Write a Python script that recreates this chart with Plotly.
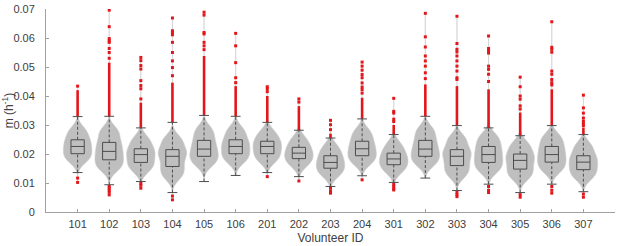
import plotly.graph_objects as go

volunteers = ["101", "102", "103", "104", "105", "106", "201", "202", "203",
              "204", "301", "302", "303", "304", "305", "306", "307"]

q1 = [0.0201, 0.0180, 0.0171, 0.0157, 0.0192, 0.0201, 0.0201, 0.0184, 0.0151,
      0.0194, 0.0163, 0.0192, 0.0160, 0.0171, 0.0148, 0.0172, 0.0146]
median = [0.0226, 0.0209, 0.0198, 0.0192, 0.0217, 0.0226, 0.0226, 0.0203, 0.0171,
          0.0218, 0.0183, 0.0217, 0.0192, 0.0198, 0.0178, 0.0198, 0.0172]
q3 = [0.0249, 0.0240, 0.0218, 0.0215, 0.0247, 0.0249, 0.0244, 0.0223, 0.0194,
      0.0244, 0.0203, 0.0247, 0.0215, 0.0226, 0.0200, 0.0226, 0.0194]
# estimated 10th / 90th percentiles (shape of the violins)
p10 = [0.0180, 0.0152, 0.0148, 0.0125, 0.0168, 0.0178, 0.0180, 0.0165, 0.0130,
       0.0172, 0.0143, 0.0168, 0.0130, 0.0145, 0.0122, 0.0146, 0.0122]
p90 = [0.0280, 0.0278, 0.0250, 0.0250, 0.0282, 0.0282, 0.0272, 0.0250, 0.0222,
       0.0276, 0.0232, 0.0282, 0.0252, 0.0258, 0.0232, 0.0258, 0.0228]
whisker_lo = [0.0136, 0.0094, 0.0105, 0.0067, 0.0105, 0.0126, 0.0136, 0.0122, 0.0088,
              0.0125, 0.0102, 0.0117, 0.0074, 0.0096, 0.0067, 0.0096, 0.0070]
whisker_hi = [0.0329, 0.0330, 0.0290, 0.0309, 0.0333, 0.0330, 0.0309, 0.0282, 0.0255,
              0.0321, 0.0267, 0.0330, 0.0298, 0.0290, 0.0263, 0.0298, 0.0267]

# top of the continuous run of red outliers above the upper whisker
dense_top = [0.0420, 0.0515, 0.0377, 0.0446, 0.0538, 0.0434, 0.0400, 0.0365, 0.0270,
             0.0394, 0.0300, 0.0440, 0.0434, 0.0423, 0.0343, 0.0423, 0.0290]

# isolated outliers above the dense run
sparse_hi = [
    [0.0434],
    [0.0696, 0.0639, 0.0598, 0.0590, 0.0585, 0.0564, 0.0550, 0.0530],
    [0.0533, 0.0522, 0.0505, 0.0493, 0.0453, 0.0436, 0.0425, 0.0390],
    [0.0669, 0.0625, 0.0619, 0.0611, 0.0585, 0.0550, 0.0521, 0.0498, 0.0470],
    [0.0689, 0.0679, 0.0619, 0.0614, 0.0585, 0.0573, 0.0560],
    [0.0616, 0.0573, 0.0515, 0.0463, 0.0446],
    [0.0432, 0.0425, 0.0415],
    [0.0390, 0.0379],
    [0.0316, 0.0301, 0.0284],
    [0.0517, 0.0503, 0.0489, 0.0474, 0.0463, 0.0445, 0.0431, 0.0422, 0.0410],
    [0.0392, 0.0347, 0.0341, 0.0320, 0.0312],
    [0.0685, 0.0604, 0.0569, 0.0538, 0.0521, 0.0503, 0.0480, 0.0460],
    [0.0675, 0.0581, 0.0561, 0.0552, 0.0538, 0.0521, 0.0503, 0.0486, 0.0463, 0.0457],
    [0.0607, 0.0564, 0.0556, 0.0548, 0.0503, 0.0492, 0.0475, 0.0450],
    [0.0465, 0.0432, 0.0400, 0.0389, 0.0366, 0.0355],
    [0.0656, 0.0568, 0.0561, 0.0551, 0.0486, 0.0475, 0.0457, 0.0446, 0.0438],
    [0.0403, 0.0359, 0.0341, 0.0324, 0.0313, 0.0305, 0.0297],
]

# outliers below the lower whisker
outliers_lo = [
    [0.0117, 0.0102],
    [0.0088, 0.0082, 0.0075, 0.0068, 0.0059],
    [0.0099, 0.0092, 0.0082],
    [0.0055, 0.0042],
    [],
    [],
    [0.0122],
    [0.0107],
    [0.0082, 0.0072, 0.0065],
    [0.0111],
    [0.0095, 0.0088, 0.0080, 0.0076],
    [],
    [0.0068, 0.0060, 0.0053],
    [0.0088, 0.0075, 0.0067],
    [0.0060, 0.0051],
    [0.0088, 0.0075, 0.0065],
    [0.0062, 0.0051],
]

VIOLIN_GREY = "#bfbfbf"
BOX_GREY = "#4d4d4d"
RED = "#e3161b"
AXIS_GREY = "#a0a0a0"
TEXT = "#404040"
FONT = "Liberation Sans, Arial, Helvetica, sans-serif"

fig = go.Figure()

# violins (distribution shapes)
for i, v in enumerate(volunteers):
    lo_all = min([whisker_lo[i]] + outliers_lo[i])
    hi_all = max([dense_top[i]] + sparse_hi[i])
    fig.add_trace(go.Violin(
        x=[v] * 5, y=[p10[i], q1[i], median[i], q3[i], p90[i]],
        bandwidth=0.0021, spanmode="manual", span=[lo_all, hi_all],
        width=0.9, scalemode="width", points=False,
        fillcolor=VIOLIN_GREY, line=dict(color="#cccccc", width=0.6),
        box_visible=False, meanline_visible=False, opacity=1,
        showlegend=False, hoverinfo="skip",
    ))

# boxes (no whiskers; whiskers drawn dashed below)
fig.add_trace(go.Box(
    x=volunteers, q1=q1, median=median, q3=q3,
    lowerfence=q1, upperfence=q3,
    width=0.42, whiskerwidth=0, boxpoints=False,
    fillcolor="rgba(0,0,0,0)", line=dict(color=BOX_GREY, width=1),
    showlegend=False, hoverinfo="skip",
))

# dense outlier runs
dx, dy = [], []
for i, v in enumerate(volunteers):
    dx += [v, v, None]
    dy += [whisker_hi[i], dense_top[i], None]
fig.add_trace(go.Scatter(x=dx, y=dy, mode="lines",
                         line=dict(color=RED, width=2.6),
                         showlegend=False, hoverinfo="skip"))

# individual outliers
ox, oy = [], []
for i, v in enumerate(volunteers):
    for val in sparse_hi[i] + outliers_lo[i]:
        ox.append(v)
        oy.append(val)
fig.add_trace(go.Scatter(x=ox, y=oy, mode="markers",
                         marker=dict(color=RED, size=3, symbol="square", line=dict(width=0)),
                         showlegend=False, hoverinfo="skip"))

# dashed whiskers
wx, wy = [], []
for i, v in enumerate(volunteers):
    wx += [v, v, None, v, v, None]
    wy += [q3[i], whisker_hi[i], None, whisker_lo[i], q1[i], None]
fig.add_trace(go.Scatter(x=wx, y=wy, mode="lines",
                         line=dict(color=BOX_GREY, width=1, dash="3px,2px"),
                         showlegend=False, hoverinfo="skip"))

# whisker caps
cx, cy = [], []
for i, v in enumerate(volunteers):
    cx += [v, v]
    cy += [whisker_hi[i], whisker_lo[i]]
fig.add_trace(go.Scatter(x=cx, y=cy, mode="markers",
                         marker=dict(symbol="line-ew", size=7,
                                     line=dict(color=BOX_GREY, width=1)),
                         showlegend=False, hoverinfo="skip"))

fig.update_layout(
    width=617, height=246,
    margin=dict(l=46, r=2, t=9, b=34),
    paper_bgcolor="white", plot_bgcolor="white",
    violinmode="overlay", boxmode="overlay",
    font=dict(family=FONT, size=11, color=TEXT),
    showlegend=False,
)
fig.update_xaxes(
    type="category", categoryorder="array", categoryarray=volunteers,
    range=[-1, 17], showgrid=False, zeroline=False, automargin=False,
    showline=True, linecolor=AXIS_GREY, linewidth=1,
    ticks="inside", ticklen=3, tickcolor=AXIS_GREY, ticklabelstandoff=2,
    tickfont=dict(size=11, color=TEXT),
    title=dict(text="Volunteer ID", font=dict(size=12, color=TEXT), standoff=4),
)
fig.update_yaxes(
    range=[0, 0.07], dtick=0.01, tick0=0, showgrid=False, zeroline=False,
    automargin=False,
    showline=True, linecolor=AXIS_GREY, linewidth=1,
    ticks="inside", ticklen=3, tickcolor=AXIS_GREY, ticklabelstandoff=8,
    tickfont=dict(size=11, color=TEXT),
    title=dict(text="m (h<sup>-1</sup>)", font=dict(size=12, color=TEXT), standoff=1),
)

fig.write_html("out.html",
               config={"displayModeBar": False},
               post_script="document.body.style.margin='0';")
